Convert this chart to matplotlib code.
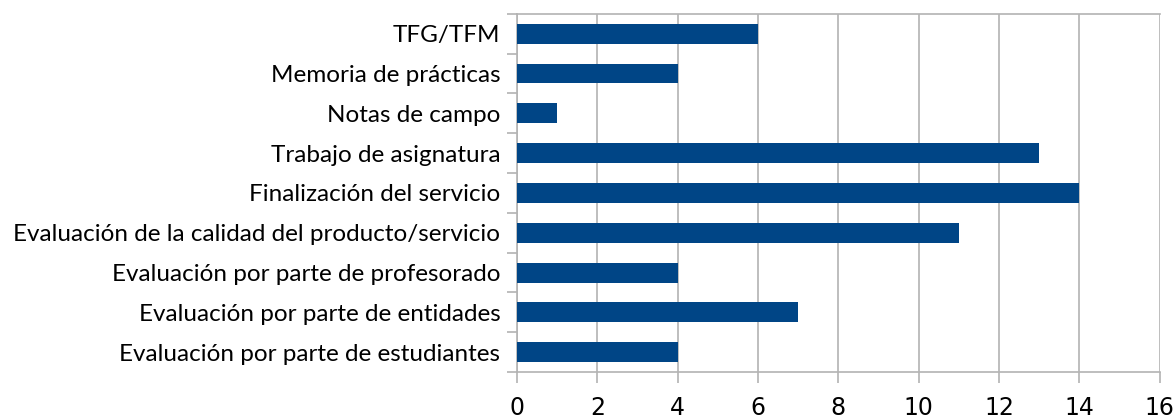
import matplotlib
matplotlib.use("Agg")
import matplotlib.pyplot as plt
import numpy as np

categorias = [
    "Evaluación por parte de estudiantes",
    "Evaluación por parte de entidades",
    "Evaluación por parte de profesorado",
    "Evaluación de la calidad del producto/servicio",
    "Finalización del servicio",
    "Trabajo de asignatura",
    "Notas de campo",
    "Memoria de prácticas",
    "TFG/TFM",
]
valores = [4, 7, 4, 11, 14, 13, 1, 4, 6]
ticks_x = [0, 2, 4, 6, 8, 10, 12, 14, 16]

gris = "#b3b3b3"

fig = plt.figure(figsize=(11.75, 4.19), dpi=100)
ax = fig.add_axes([0.44, 0.112, 0.547, 0.855])

y = np.arange(len(categorias))
ax.barh(y, valores, height=0.5, color="#004586", zorder=3)

ax.set_xlim(0, 16)
ax.set_ylim(-0.5, len(categorias) - 0.5)
ax.set_xticks(ticks_x)
ax.set_xticklabels([str(t) for t in ticks_x], fontsize=17,
                   family=["Liberation Sans Narrow", "DejaVu Sans"])
ax.set_yticks(y)
ax.set_yticklabels(categorias, fontsize=17.5, family="Lato")
ax.set_yticks(np.arange(-0.5, len(categorias)), minor=True)
ax.tick_params(axis="y", which="major", length=0, pad=12)
ax.tick_params(axis="y", which="minor", length=7.5, color=gris, width=1.2)
ax.tick_params(axis="x", length=8, color=gris, width=1.2, pad=9.5)

ax.grid(axis="x", color=gris, linewidth=1.2, zorder=0)
for s in ["top", "bottom", "left"]:
    ax.spines[s].set_color(gris)
    ax.spines[s].set_linewidth(1.2)
ax.spines["right"].set_visible(False)

fig.savefig("out.png", dpi=100)
